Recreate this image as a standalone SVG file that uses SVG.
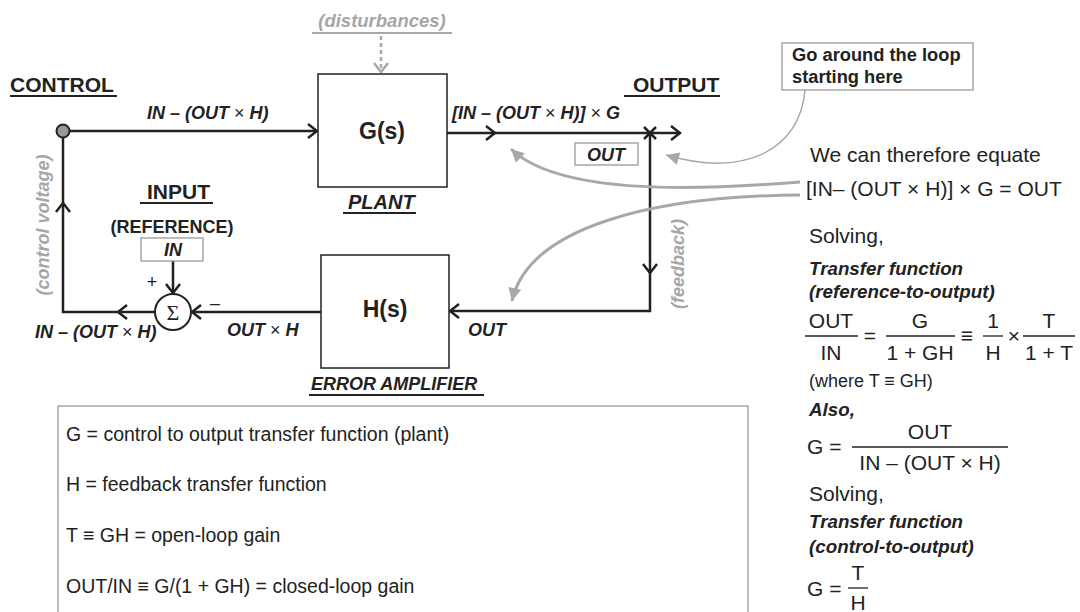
<svg xmlns="http://www.w3.org/2000/svg" width="1080" height="612" viewBox="0 0 1080 612">
<style>
text{font-family:"Liberation Sans",Arial,Helvetica,sans-serif;fill:#222}
.b{font-weight:bold}
.bi{font-weight:bold;font-style:italic}
.g{fill:#a6a6a6}
.box{fill:#fff;stroke:#222;stroke-width:1.5}
.gbox{fill:#fff;stroke:#999;stroke-width:1.3}
.ln{fill:none;stroke:#222;stroke-width:2.5}
.ul{stroke:#222;stroke-width:2}
.gl{fill:none;stroke:#a8a8a8;stroke-width:3}
.m{text-anchor:middle}
.eq{font-size:21px}
.lbl{font-size:18px}
.sub{font-size:18.8px}
.fl{stroke:#222;stroke-width:1.3}
.x{font-weight:normal;font-style:normal}
</style>
<defs>
<marker id="chev" viewBox="-12 -10 14 20" markerWidth="14" markerHeight="20" refX="0" refY="0" orient="auto" markerUnits="userSpaceOnUse">
<path d="M-9,-7 L0,0 L-9,7" fill="none" stroke="#222" stroke-width="2.5"/>
</marker>
<marker id="gchev" viewBox="-12 -10 14 20" markerWidth="14" markerHeight="20" refX="0" refY="0" orient="auto" markerUnits="userSpaceOnUse">
<path d="M-9,-7 L0,0 L-9,7" fill="none" stroke="#a8a8a8" stroke-width="2.5"/>
</marker>
<marker id="gtri" viewBox="-14 -8 16 16" markerWidth="16" markerHeight="16" refX="0" refY="0" orient="auto" markerUnits="userSpaceOnUse">
<path d="M-13,-6.5 L0,0 L-13,6.5 z" fill="#a8a8a8"/>
</marker>
</defs>

<g id="connectors">
<line class="ln" x1="70" y1="131" x2="317" y2="131" marker-end="url(#chev)"/>
<line class="ln" x1="447" y1="133" x2="495" y2="133" marker-end="url(#chev)"/>
<line class="ln" x1="495" y1="133" x2="680" y2="133" marker-end="url(#chev)"/>
<path class="ln" d="M644,127 L656,139 M656,127 L644,139" stroke-width="1.5"/>
<line class="ln" x1="650" y1="133" x2="650" y2="273" marker-end="url(#chev)"/>
<path class="ln" d="M650,273 L650,311 L450,311" marker-end="url(#chev)"/>
<line class="ln" x1="321" y1="312" x2="192" y2="312" marker-end="url(#chev)"/>
<path class="ln" d="M155,312 L118,312" marker-end="url(#chev)"/>
<path class="ln" d="M118,312 L63,312 L63,203" marker-end="url(#chev)"/>
<line class="ln" x1="63" y1="203" x2="63" y2="138"/>
<line class="ln" x1="173" y1="261" x2="173" y2="293" marker-end="url(#chev)"/>
<line x1="381" y1="36" x2="381" y2="72" stroke="#a8a8a8" stroke-width="2.5" stroke-dasharray="4,3" marker-end="url(#gchev)"/>
<path class="gl" d="M800,182 C700,190 560,196 511,149" marker-end="url(#gtri)"/>
<path class="gl" d="M800,195 C650,196 528,228 512,301" marker-end="url(#gtri)"/>
<path d="M805,90 C800,150 745,178 666,155" fill="none" stroke="#a8a8a8" stroke-width="1.5" marker-end="url(#gtri)"/>
</g>

<g id="disturbances">
<text x="382" y="27" class="bi g m" font-size="18.5">(disturbances)</text>
<line x1="312" y1="33" x2="452" y2="33" stroke="#a8a8a8" stroke-width="2"/>
</g>

<g id="control-node">
<text x="10" y="92" class="b" font-size="21">CONTROL</text>
<line class="ul" x1="10" y1="96" x2="117" y2="96"/>
<circle cx="63" cy="131" r="6.5" fill="#999" stroke="#222" stroke-width="2"/>
<text transform="translate(49,225) rotate(-90)" class="bi g m" font-size="18">(control voltage)</text>
</g>

<g id="plant">
<rect class="box" x="318" y="74" width="129" height="113"/>
<text x="382" y="139" class="b m" font-size="23">G(s)</text>
<text x="348" y="209" class="bi" font-size="20">PLANT</text>
<line class="ul" x1="343" y1="213" x2="416" y2="213"/>
</g>

<g id="output-node">
<text x="633" y="92" class="b" font-size="21">OUTPUT</text>
<line class="ul" x1="624" y1="96" x2="720" y2="96"/>
<rect class="gbox" x="575" y="143" width="63" height="22"/>
<text x="606" y="161" class="bi m" font-size="18">OUT</text>
<text transform="translate(684,264) rotate(-90)" class="bi g m" font-size="18">(feedback)</text>
</g>

<g id="error-amplifier">
<rect class="box" x="321" y="255" width="128" height="113"/>
<text x="385" y="317" class="b m" font-size="23">H(s)</text>
<text x="311" y="390" class="bi" font-size="18">ERROR AMPLIFIER</text>
<line class="ul" x1="309" y1="395" x2="484" y2="395"/>
</g>

<g id="input-node">
<text x="147" y="199" class="b" font-size="21">INPUT</text>
<line class="ul" x1="140" y1="203" x2="213" y2="203"/>
<text x="172" y="233" class="b m" font-size="18">(REFERENCE)</text>
<rect class="gbox" x="141" y="238" width="62" height="23"/>
<text x="173" y="256" class="bi m" font-size="18">IN</text>
</g>

<g id="sigma">
<circle cx="173" cy="312" r="18" fill="#fff" stroke="#222" stroke-width="2"/>
<text x="173" y="320" class="m" font-size="22" style="font-family:'Liberation Serif','Times New Roman',serif">Σ</text>
<text x="152" y="288" class="m" font-size="18">+</text>
<text x="215" y="309" class="m" font-size="18">–</text>
</g>

<g id="labels">
<text x="147" y="119" class="bi lbl">IN – (OUT <tspan class="x">×</tspan> H)</text>
<text x="452" y="119" class="bi lbl">[IN – (OUT <tspan class="x">×</tspan> H)] <tspan class="x">×</tspan> G</text>
<text x="468" y="336" class="bi lbl">OUT</text>
<text x="35" y="338" class="bi lbl">IN – (OUT <tspan class="x">×</tspan> H)</text>
<text x="227" y="336" class="bi lbl">OUT <tspan class="x">×</tspan> H</text>
</g>

<g id="note">
<rect class="gbox" x="782" y="43" width="191" height="47"/>
<text x="792" y="61" class="b" font-size="18.3">Go around the loop</text>
<text x="792" y="83" class="b" font-size="18.3">starting here</text>
</g>

<g id="equations">
<text x="810" y="162" class="eq">We can therefore equate</text>
<text x="806" y="196" class="eq">[IN– (OUT × H)] × G = OUT</text>
<text x="809" y="243" class="eq">Solving,</text>
<text x="809" y="275" class="bi sub">Transfer function</text>
<text x="809" y="298" class="bi sub">(reference-to-output)</text>
<text x="831" y="328" class="eq m">OUT</text>
<line class="fl" x1="805" y1="336" x2="858" y2="336"/>
<text x="831" y="360" class="eq m">IN</text>
<text x="870" y="343" class="eq m">=</text>
<text x="920" y="328" class="eq m">G</text>
<line class="fl" x1="886" y1="336" x2="955" y2="336"/>
<text x="920" y="360" class="eq m">1 + GH</text>
<text x="967" y="343" class="eq m">≡</text>
<text x="993" y="328" class="eq m">1</text>
<line class="fl" x1="983" y1="336" x2="1003" y2="336"/>
<text x="993" y="360" class="eq m">H</text>
<text x="1014" y="343" class="eq m">×</text>
<text x="1049" y="328" class="eq m">T</text>
<line class="fl" x1="1023" y1="336" x2="1075" y2="336"/>
<text x="1049" y="360" class="eq m">1 + T</text>
<text x="809" y="387" font-size="18">(where T ≡ GH)</text>
<text x="809" y="416" class="bi sub">Also,</text>
<text x="807" y="454" class="eq">G =</text>
<text x="930" y="439" class="eq m">OUT</text>
<line class="fl" x1="852" y1="447" x2="1008" y2="447"/>
<text x="930" y="470" class="eq m">IN – (OUT × H)</text>
<text x="809" y="501" class="eq">Solving,</text>
<text x="809" y="528" class="bi sub">Transfer function</text>
<text x="809" y="553" class="bi sub">(control-to-output)</text>
<text x="807" y="596" class="eq">G =</text>
<text x="858" y="580" class="eq m">T</text>
<line class="fl" x1="848" y1="588" x2="868" y2="588"/>
<text x="858" y="610" class="eq m">H</text>
</g>

<g id="legend">
<rect x="58" y="406" width="690" height="230" fill="none" stroke="#999" stroke-width="1.3"/>
<text x="66" y="441" font-size="19.5">G = control to output transfer function (plant)</text>
<text x="66" y="491" font-size="19.5">H = feedback transfer function</text>
<text x="66" y="542" font-size="19.5">T ≡ GH = open-loop gain</text>
<text x="66" y="593" font-size="19.5">OUT/IN ≡ G/(1 + GH) = closed-loop gain</text>
</g>
</svg>
